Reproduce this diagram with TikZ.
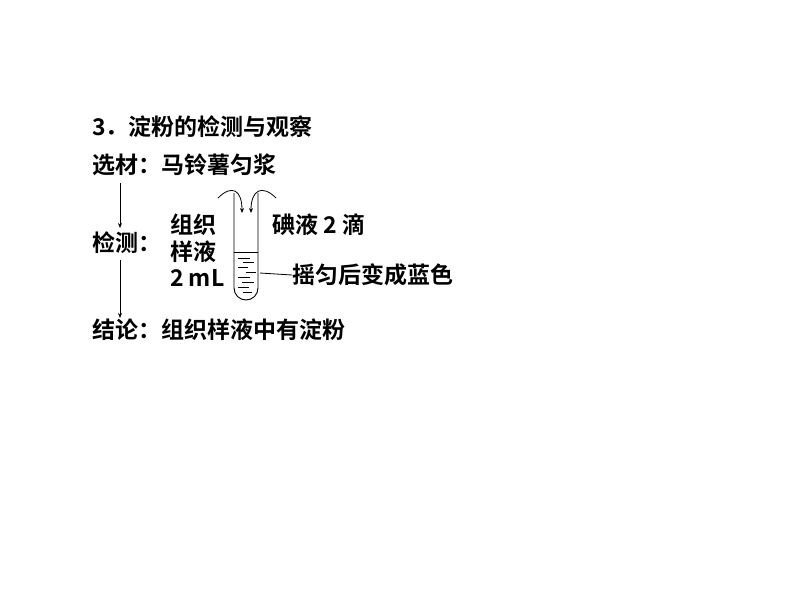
\documentclass[tikz,border=0pt]{standalone}
\usepackage{fontspec}
\usetikzlibrary{arrows.meta}
\setmainfont{Liberation Serif}
\newfontfamily\cjk{Noto Sans CJK SC Bold}
\begin{document}
\begin{tikzpicture}[x=1pt,y=-1pt,
  txt/.style={anchor=west,inner sep=0pt,font=\cjk\fontsize{23}{26}\selectfont},
  ar/.style={-{Stealth[length=5pt,width=4pt]},line width=0.8pt}]
\useasboundingbox (0,0) rectangle (800,600);
\node[txt] (t) at (92,127) {3．淀粉的检测与观察};
\node[txt] (a) at (92,165) {选材：马铃薯匀浆};
\node[txt] (b) at (92,243) {检测：};
\node[txt] (c) at (92,330) {结论：组织样液中有淀粉};
\node[txt] (z1) at (170,225) {组织};
\node[txt] (z2) at (170,252) {样液};
\node[txt] (z3) at (170,278) {2 mL};
\node[txt] (d) at (272,225) {碘液 2 滴};
\node[txt] (e) at (292,275) {摇匀后变成蓝色};
\coordinate (a1) at (120,183); \coordinate (a2) at (120,228);
\coordinate (b1) at (120,260); \coordinate (b2) at (120,318);
\draw[ar] (a1) -- (a2);
\draw[ar] (b1) -- (b2);
% tube
\draw[line width=0.9pt] (234,193) -- (234,288) arc[start angle=180,end angle=0,radius=12] -- (258,193);
\draw[line width=0.8pt] (234,252) -- (258,252);
\foreach \yy/\xa/\xb in {258/238/250,262/243/254,267/238/248,272/246/256,277/238/250,282/242/254,287/238/249,292/243/252}
  \draw[line width=0.7pt] (\xa,\yy) -- (\xb,\yy);
\coordinate (L) at (260,273);
\draw[line width=0.8pt] (L) -- (e.west);
\draw[ar] (218,198) .. controls (232,184) and (242,190) .. (242,213);
\draw[ar] (276,198) .. controls (262,184) and (251,190) .. (251,213);
\end{tikzpicture}
\end{document}
